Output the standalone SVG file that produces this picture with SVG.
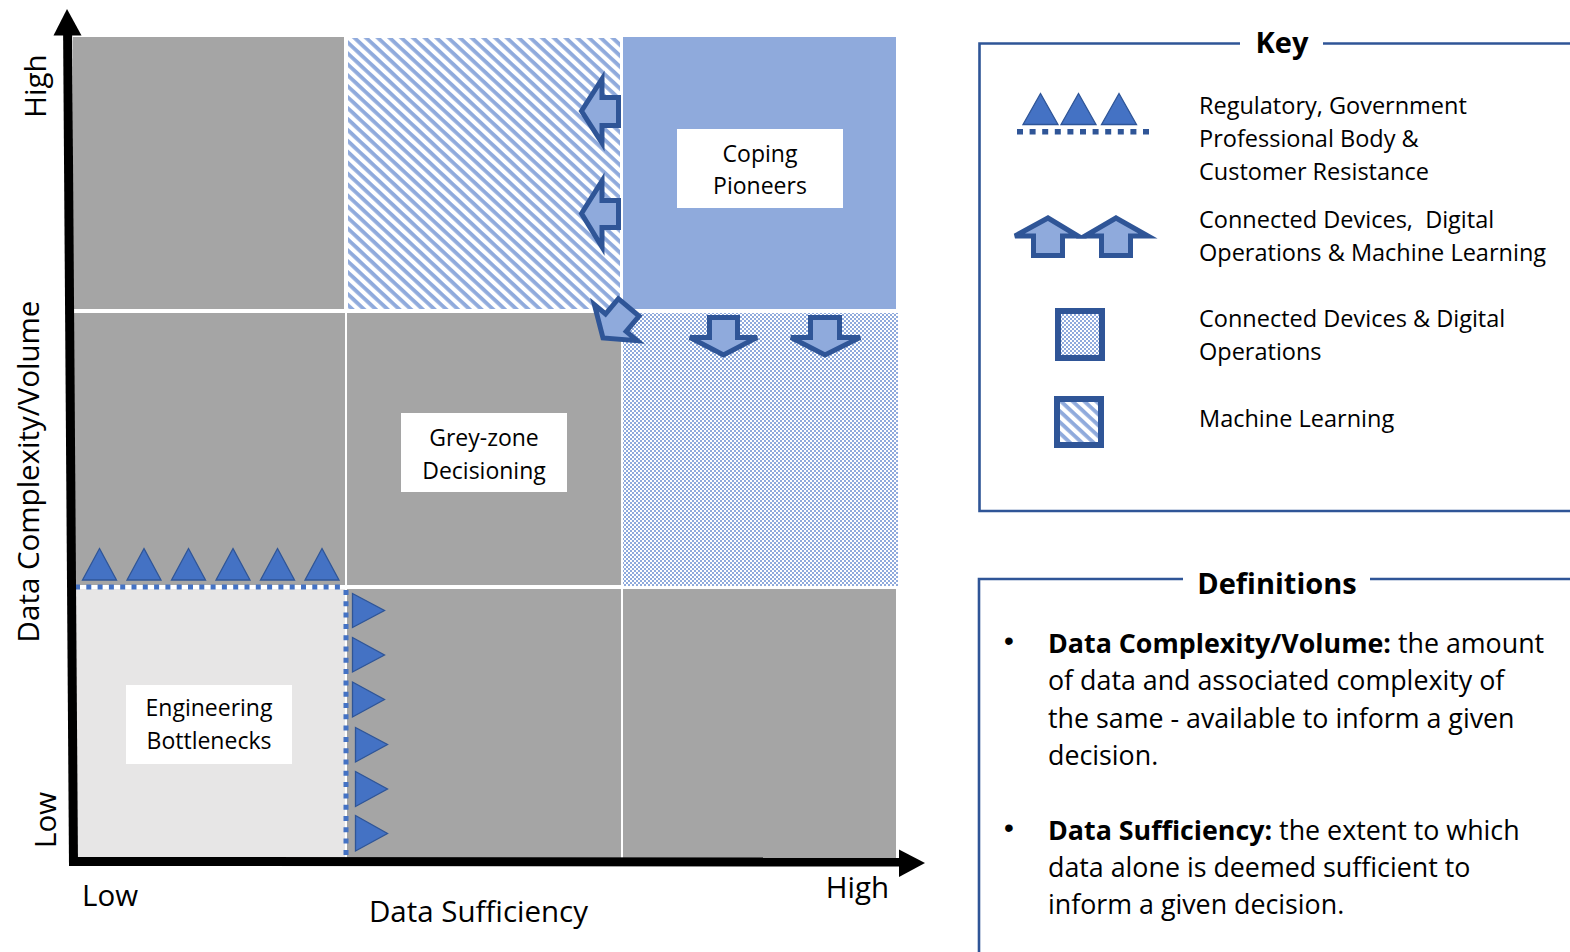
<svg xmlns="http://www.w3.org/2000/svg" width="1570" height="952" viewBox="0 0 1570 952">
  <style>
    .t { font-family: "Open Sans", "Liberation Sans", sans-serif; fill: #000; }
    .lbl { font-size: 23px; }
    .ax { font-size: 29.5px; }
    .key { font-size: 23.5px; }
    .def { font-size: 26.8px; }
    .bul { font-family: "Liberation Sans", sans-serif; font-size: 28px; fill: #000; }
    .ttl { font-size: 29px; font-weight: bold; }
    .b { font-weight: bold; }
    .grey { fill: #a5a5a5; }
    .box { fill: #ffffff; }
    .arr { fill: #8faadc; stroke: #2f5597; stroke-width: 5; stroke-linejoin: miter; }
    .tri { fill: #4472c4; stroke: #2f5597; stroke-width: 1.3; stroke-linejoin: miter; }
    .frame { fill: none; stroke: #2f5597; stroke-width: 2.6; }
  </style>
  <defs>
    <pattern id="checker" width="4" height="4" patternUnits="userSpaceOnUse">
      <rect width="4" height="4" fill="#ffffff"/>
      <rect width="2" height="2" fill="#8faadc"/>
      <rect x="2" y="2" width="2" height="2" fill="#8faadc"/>
    </pattern>
    <pattern id="hatch" width="8" height="8" patternUnits="userSpaceOnUse" patternTransform="rotate(43)">
      <rect width="8" height="8" fill="#ffffff"/>
      <rect width="8" height="3.8" fill="#8faadc"/>
    </pattern>
  </defs>

  <rect width="1570" height="952" fill="#ffffff"/>

  <!-- matrix cells -->
  <g id="cells">
    <rect id="cell-r1c1" class="grey" x="73" y="37" width="271" height="272"/>
    <rect id="cell-r1c2" x="348" y="38" width="272" height="271" fill="url(#hatch)"/>
    <rect id="cell-r1c3" x="623" y="37" width="273" height="272" fill="#8faadc"/>
    <rect id="cell-r2c1" class="grey" x="73" y="313" width="272" height="272"/>
    <rect id="cell-r2c2" class="grey" x="347" y="313" width="274" height="272"/>
    <rect id="cell-r2c3" x="623" y="313" width="275" height="273" fill="url(#checker)"/>
    <rect id="cell-r3c1" x="76" y="589" width="269" height="270" fill="#e7e6e6"/>
    <rect id="cell-r3c2" class="grey" x="347" y="589" width="274" height="270"/>
    <rect id="cell-r3c3" class="grey" x="623" y="589" width="273" height="270"/>
  </g>

  <!-- quadrant labels -->
  <g id="node-coping-pioneers">
    <rect class="box" x="677" y="129" width="166" height="79"/>
    <text class="t lbl" x="760" y="162" text-anchor="middle">Coping</text>
    <text class="t lbl" x="760" y="194" text-anchor="middle">Pioneers</text>
  </g>
  <g id="node-grey-zone">
    <rect class="box" x="401" y="413" width="166" height="79"/>
    <text class="t lbl" x="484" y="446" text-anchor="middle">Grey-zone</text>
    <text class="t lbl" x="484" y="479" text-anchor="middle">Decisioning</text>
  </g>
  <g id="node-engineering-bottlenecks">
    <rect class="box" x="126" y="685" width="166" height="79"/>
    <text class="t lbl" x="209" y="716" text-anchor="middle">Engineering</text>
    <text class="t lbl" x="209" y="749" text-anchor="middle">Bottlenecks</text>
  </g>

  <!-- pressure markers along the boundaries -->
  <g id="connectors">
    <!-- resistance barrier: dotted edges -->
    <line x1="75" y1="587" x2="346" y2="587" stroke="#4472c4" stroke-width="5" stroke-dasharray="5 6.3"/>
    <line x1="346" y1="590" x2="346" y2="858" stroke="#4472c4" stroke-width="5" stroke-dasharray="5 6.3"/>

    <!-- resistance triangles pushing up -->
    <g class="tri">
      <polygon points="99.5,548.5 116.5,580 82.5,580"/>
      <polygon points="144,548.5 161,580 127,580"/>
      <polygon points="188.5,548.5 205.5,580 171.5,580"/>
      <polygon points="233,548.5 250,580 216,580"/>
      <polygon points="277.5,548.5 294.5,580 260.5,580"/>
      <polygon points="322,548.5 339,580 305,580"/>
    </g>
    <!-- resistance triangles pushing right -->
    <g class="tri">
      <polygon points="352.5,593.5 384.5,610.5 352.5,627.5"/>
      <polygon points="352.5,637.5 384.5,655 352.5,672"/>
      <polygon points="352.5,682 384.5,699.5 352.5,717"/>
      <polygon points="355.5,727.5 387.5,744.5 355.5,762"/>
      <polygon points="355.5,771.5 387.5,789 355.5,806.5"/>
      <polygon points="355.5,815.5 387.5,833.5 355.5,851"/>
    </g>

    <!-- block arrows from the coping pioneers cell -->
    <path class="arr" d="M581.5,111 L602,79 L602,97.5 L618.5,97.5 L618.5,125.5 L602,125.5 L602,143 Z"/>
    <path class="arr" d="M581.5,213.5 L602,181 L602,200.5 L618.5,200.5 L618.5,227.5 L602,227.5 L602,247 Z"/>
    <path class="arr" transform="translate(603,338) rotate(-50)" d="M0,0 L20,-28 L20,-13.5 L40,-13.5 L40,13.5 L20,13.5 L20,28 Z"/>
    <path class="arr" d="M709.5,317.5 L737.5,317.5 L737.5,337.5 L757,337.5 L723.5,355 L690,337.5 L709.5,337.5 Z"/>
    <path class="arr" d="M810.5,317.5 L839.5,317.5 L839.5,337.5 L860,337.5 L825,355 L791,337.5 L810.5,337.5 Z"/>
  </g>

  <!-- axes -->
  <g id="axes">
    <line x1="67.6" y1="32" x2="73.5" y2="866" stroke="#000" stroke-width="9"/>
    <polygon points="67,9 81.5,35.5 53.5,35.5" fill="#000"/>
    <line x1="69" y1="861.5" x2="901" y2="862" stroke="#000" stroke-width="9"/>
    <polygon points="925,863 899,849.5 899,877" fill="#000"/>
    <text class="t ax" transform="translate(46,86) rotate(-90)" text-anchor="middle">High</text>
    <text class="t ax" transform="translate(39,471.5) rotate(-90)" text-anchor="middle">Data Complexity/Volume</text>
    <text class="t ax" transform="translate(56,820) rotate(-90)" text-anchor="middle">Low</text>
    <text class="t ax" x="82" y="906">Low</text>
    <text class="t ax" x="478.5" y="922" text-anchor="middle">Data Sufficiency</text>
    <text class="t ax" x="889" y="898" text-anchor="end">High</text>
  </g>

  <!-- key panel -->
  <g id="key">
    <polyline class="frame" points="1240,43.5 979.5,43.5 979.5,511 1570,511"/>
    <line class="frame" x1="1323" y1="43.5" x2="1570" y2="43.5"/>
    <text class="t ttl" x="1282" y="53" text-anchor="middle">Key</text>

    <g id="key-resistance">
      <line x1="1017" y1="131.7" x2="1150" y2="131.7" stroke="#2f5597" stroke-width="5.5" stroke-dasharray="6 6.6"/>
      <g class="tri">
        <polygon points="1040.5,93.5 1058,124.5 1023,124.5"/>
        <polygon points="1078.5,93.5 1096,124.5 1061,124.5"/>
        <polygon points="1119,93.5 1136.5,124.5 1101.5,124.5"/>
      </g>
      <text class="t key" x="1199" y="114">Regulatory, Government</text>
      <text class="t key" x="1199" y="147">Professional Body &amp;</text>
      <text class="t key" x="1199" y="180">Customer Resistance</text>
    </g>

    <g id="key-enablers">
      <path class="arr" d="M1048,218 L1078,236 L1062.5,236 L1062.5,255.5 L1033.5,255.5 L1033.5,236 L1015,236 Z"/>
      <path class="arr" d="M1116,218 L1148,236 L1130.5,236 L1130.5,255.5 L1101.5,255.5 L1101.5,236 L1085,236 Z"/>
      <text class="t key" x="1199" y="228" xml:space="preserve">Connected Devices,  Digital</text>
      <text class="t key" x="1199" y="261">Operations &amp; Machine Learning</text>
    </g>

    <g id="key-devices">
      <rect x="1058" y="311" width="44" height="47" fill="url(#checker)" stroke="#2f5597" stroke-width="6"/>
      <text class="t key" x="1199" y="327">Connected Devices &amp; Digital</text>
      <text class="t key" x="1199" y="360">Operations</text>
    </g>

    <g id="key-ml">
      <rect x="1057" y="399" width="44" height="46" fill="url(#hatch)" stroke="#2f5597" stroke-width="6"/>
      <text class="t key" x="1199" y="427">Machine Learning</text>
    </g>
  </g>

  <!-- definitions panel -->
  <g id="definitions">
    <polyline class="frame" points="1183,579 979,579 979,952"/>
    <line class="frame" x1="1370" y1="579" x2="1570" y2="579"/>
    <text class="t ttl" x="1277" y="594" text-anchor="middle">Definitions</text>

    <text class="bul" x="1004" y="650">•</text>
    <text class="t def" x="1048" y="653"><tspan class="b">Data Complexity/Volume:</tspan> the amount</text>
    <text class="t def" x="1048" y="690">of data and associated complexity of</text>
    <text class="t def" x="1048" y="728">the same - available to inform a given</text>
    <text class="t def" x="1048" y="765">decision.</text>

    <text class="bul" x="1004" y="837">•</text>
    <text class="t def" x="1048" y="840"><tspan class="b">Data Sufficiency:</tspan> the extent to which</text>
    <text class="t def" x="1048" y="877">data alone is deemed sufficient to</text>
    <text class="t def" x="1048" y="914">inform a given decision.</text>
  </g>
</svg>
